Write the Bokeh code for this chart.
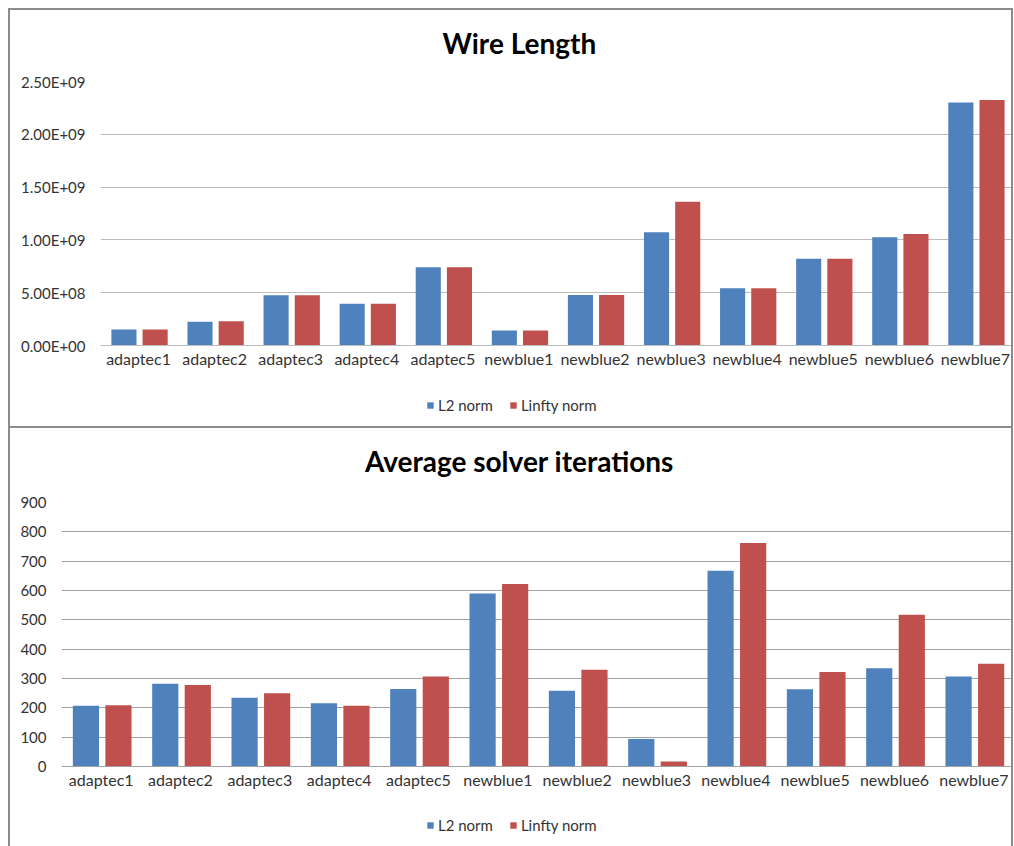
from bokeh.plotting import figure
from bokeh.layouts import column, row, Spacer
from bokeh.models import (ColumnDataSource, Legend, LegendItem, SingleIntervalTicker,
                          CustomJSTickFormatter, Range1d, Label)
from bokeh.transform import dodge
from bokeh.embed import file_html
from bokeh.resources import INLINE

benchmarks = ["adaptec1", "adaptec2", "adaptec3", "adaptec4", "adaptec5",
              "newblue1", "newblue2", "newblue3", "newblue4", "newblue5",
              "newblue6", "newblue7"]
series_names = ["L2 norm", "Linfty norm"]

wirelength_l2 = [1.51e8, 2.24e8, 4.75e8, 3.96e8, 7.42e8, 1.42e8,
                 4.78e8, 1.072e9, 5.41e8, 8.21e8, 1.025e9, 2.302e9]
wirelength_linf = [1.51e8, 2.29e8, 4.76e8, 3.96e8, 7.42e8, 1.42e8,
                   4.78e8, 1.361e9, 5.41e8, 8.21e8, 1.057e9, 2.324e9]

iterations_l2 = [207, 282, 234, 216, 264, 590, 258, 94, 667, 263, 335, 307]
iterations_linf = [209, 278, 250, 207, 307, 622, 330, 17, 762, 322, 517, 350]

BLUE = "#4F81BD"
RED = "#C0504D"
FONT = "Lato"
TEXT = "#333333"
BOX = "#8c8c8c"
W = 1005          # outer width of each chart box
RIGHT = 2         # space right of the plotting area
LINE = f"2px solid {BOX}"


def box_style(top=False, bottom=False):
    s = {"border-left": LINE, "border-right": LINE, "box-sizing": "border-box"}
    if top:
        s["border-top"] = LINE
    if bottom:
        s["border-bottom"] = LINE
    return s


def strip(height, inner_h, left, styles):
    """Plain drawing strip (no axes) whose data units are pixels of its frame."""
    inner_w = W - 4 - left - RIGHT
    f = figure(width=W, height=height, x_range=Range1d(0, inner_w),
               y_range=Range1d(0, inner_h), x_axis_type=None, y_axis_type=None,
               output_backend="svg", toolbar_location=None, title=None,
               min_border=0, min_border_left=left, min_border_right=RIGHT,
               min_border_top=0, min_border_bottom=0,
               background_fill_color="white", border_fill_color="white")
    f.outline_line_color = None
    f.styles = styles
    return f


def title_strip(text, height, inner_h, left, x, baseline, top_line):
    f = strip(height, inner_h, left, box_style(top=top_line))
    f.add_layout(Label(x=x, y=baseline, text=text, text_align="center",
                       text_baseline="alphabetic", text_font=FONT,
                       text_font_style="bold", text_font_size="28px",
                       text_color="black"))
    return f


def legend_strip(height, inner_h, left, legend_x, legend_y, bottom_line):
    f = strip(height, inner_h, left, box_style(bottom=bottom_line))
    key = ColumnDataSource(dict(x=[0], top=[0]))   # zero-height legend keys
    rb = f.vbar(x="x", top="top", width=1, source=key, fill_color=BLUE, line_color=None)
    rr = f.vbar(x="x", top="top", width=1, source=key, fill_color=RED, line_color=None)
    legend = Legend(items=[LegendItem(label=series_names[0], renderers=[rb]),
                           LegendItem(label=series_names[1], renderers=[rr])],
                    orientation="horizontal", location=(legend_x, legend_y),
                    border_line_color=None, background_fill_alpha=0,
                    glyph_width=8, glyph_height=8, label_standoff=4, spacing=16,
                    padding=4, margin=0,
                    label_text_font=FONT, label_text_font_size="15px",
                    label_text_color=TEXT)
    f.add_layout(legend)
    return f


def bar_chart(l2, linf, y_max, y_step, left_border, grid_color, sci):
    src = ColumnDataSource(dict(cat=benchmarks, l2=l2, linf=linf))
    p = figure(x_range=benchmarks, y_range=Range1d(0, y_max), title=None,
               width=W, height=304, output_backend="svg", toolbar_location=None,
               min_border_left=left_border, min_border_right=RIGHT,
               min_border_top=15, min_border_bottom=24,
               background_fill_color="white", border_fill_color="white")
    p.x_range.range_padding = 0
    p.outline_line_color = None
    p.styles = box_style()

    p.vbar(x=dodge("cat", -0.192, range=p.x_range), top="l2", width=0.33,
           source=src, fill_color=BLUE, line_color=None)
    p.vbar(x=dodge("cat", 0.218, range=p.x_range), top="linf", width=0.33,
           source=src, fill_color=RED, line_color=None)

    p.yaxis.ticker = SingleIntervalTicker(interval=y_step)
    if sci:
        p.yaxis.formatter = CustomJSTickFormatter(code="""
            return tick.toExponential(2).toUpperCase()
                       .replace(/E([+-])(\\d)$/, (m, s, d) => 'E' + s + '0' + d);
        """)
    p.yaxis.axis_line_color = None
    p.yaxis.major_tick_line_color = None
    p.yaxis.minor_tick_line_color = None
    p.yaxis.major_tick_out = 0
    p.yaxis.minor_tick_out = 0
    p.yaxis.major_label_standoff = 15
    p.yaxis.major_label_text_font_size = "15px"
    p.xaxis.axis_line_color = grid_color
    p.xaxis.major_tick_line_color = None
    p.xaxis.major_tick_out = 0
    p.xaxis.major_label_standoff = 3
    p.xaxis.major_label_text_font_size = "16px"
    for ax in (p.xaxis, p.yaxis):
        ax.major_label_text_font = FONT
        ax.major_label_text_color = TEXT

    p.xgrid.grid_line_color = None
    p.ygrid.grid_line_color = grid_color
    p.ygrid.grid_line_width = 1
    return p


# Wire length box (plot area starts 90 px in)
LEFT1 = 90
head1 = title_strip("Wire Length", 58, 56, LEFT1, 417, 25, True)
chart1 = bar_chart(wirelength_l2, wirelength_linf, 2.5e9, 5e8, LEFT1, "#bdbdbd", True)
leg1 = legend_strip(58, 56, LEFT1, 326, 14, True)

# Solver iterations box (plot area starts 51 px in)
LEFT2 = 51
head2 = title_strip("Average solver iterations", 59, 59, LEFT2, 456, 27, False)
chart2 = bar_chart(iterations_l2, iterations_linf, 900, 100, LEFT2, "#a3a3a3", False)
leg2 = legend_strip(55, 55, LEFT2, 365, 12, False)

layout = row(Spacer(width=8),
             column(Spacer(height=8),
                    column(head1, chart1, leg1),
                    column(head2, chart2, leg2)))
open("out.html", "w").write(file_html(layout, INLINE))
